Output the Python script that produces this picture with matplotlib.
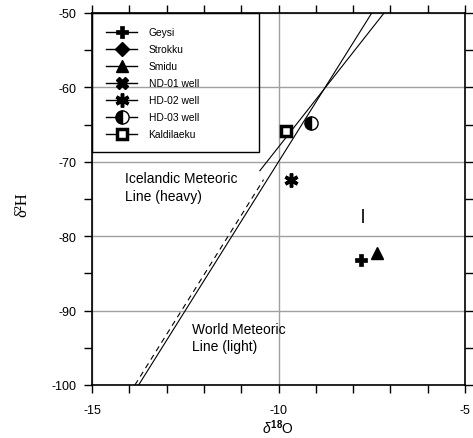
import matplotlib
matplotlib.use("Agg")
import matplotlib.pyplot as plt
from matplotlib.patches import Rectangle
from matplotlib.ticker import MultipleLocator

plt.rcParams['font.family'] = ['Liberation Sans', 'DejaVu Sans']
plt.rcParams['mathtext.fontset'] = 'custom'
plt.rcParams['mathtext.rm'] = 'Liberation Sans'
plt.rcParams['mathtext.bf'] = 'Liberation Sans:bold'
plt.rcParams['mathtext.it'] = 'Liberation Sans:italic'
plt.rcParams['axes.unicode_minus'] = False

# ---- data ----
geysi_x = [-7.80]
geysi_y = [-83.2]
strokku_x = []
strokku_y = []
smidu_x = [-7.37]
smidu_y = [-82.3]
nd01_x = []
nd01_y = []
hd02_x = [-9.67]
hd02_y = [-72.5]
hd03_x = [-9.14]
hd03_y = [-64.8]
kald_x = [-9.79]
kald_y = [-65.9]
bar_x = [-7.74]
bar_y = [-77.3]

gmwl_x = [-13.75, -7.50]
gmwl_y = [-100, -50]
imwl_x = [-10.50, -7.17]
imwl_y = [-71.2, -50]
dash_x = [-13.85, -10.40]
dash_y = [-100, -72.4]

fig = plt.figure(figsize=(4.73, 4.39), dpi=100)
ax = fig.add_axes([92/473, 1-386/439, (465-92)/473, (386-14)/439])

ax.set_xlim(-15, -5)
ax.set_ylim(-100, -50)

ax.grid(True, which='major', color='#a0a0a0', lw=1.0, zorder=0)
ax.set_axisbelow(True)

ax.plot(gmwl_x, gmwl_y, color='black', lw=0.8, zorder=2)
ax.plot(imwl_x, imwl_y, color='black', lw=0.8, zorder=2)
ax.plot(dash_x, dash_y, color='black', lw=0.8, ls=(0, (5, 4)), zorder=2)

lk = dict(color='black', lw=1.0, ls='none')
ax.plot(geysi_x, geysi_y, marker='P', ms=9, mfc='black', mec='black', mew=0.5, label='Geysi', **lk)
ax.plot(strokku_x, strokku_y, marker='D', ms=7, mfc='black', mec='black', label='Strokku', **lk)
ax.plot(smidu_x, smidu_y, marker='^', ms=8.5, mfc='black', mec='black', label='Smidu', **lk)
ax.plot(nd01_x, nd01_y, marker='X', ms=9, mfc='black', mec='black', label='ND-01 well', **lk)
ax.plot(hd02_x, hd02_y, marker=(6, 2, 0), ms=10, mec='black', mew=2.5, label='HD-02 well', **lk)
ax.plot(hd03_x, hd03_y, marker='o', ms=9.5, fillstyle='left', mfc='black',
        markerfacecoloralt='white', mec='black', mew=1.0, label='HD-03 well', **lk)
ax.plot(kald_x, kald_y, marker='s', ms=7.5, mfc='white', mec='black', mew=2.5, label='Kaldilaeku', **lk)
ax.plot(bar_x, bar_y, marker='|', ms=10, mec='black', mew=1.2, ls='none')

handles, labels = ax.get_legend_handles_labels()
for h in handles:
    h.set_linestyle('-')
leg = ax.legend(handles, labels, loc='upper left', bbox_to_anchor=(0.0, 1.0),
                frameon=False, fontsize=7.4, handlelength=3.0, handletextpad=1.1,
                borderpad=1.4, labelspacing=0.68, borderaxespad=0.0)
ax.add_patch(Rectangle((0, (386-153)/372), (259-92)/373, 1-(386-153)/372,
                       transform=ax.transAxes, fill=False, ec='black', lw=1.0,
                       clip_on=False, zorder=5))

ax.text(-14.12, -72.2, 'Icelandic Meteoric', fontsize=10, va='center', ha='left')
ax.text(-14.12, -74.6, 'Line (heavy)', fontsize=10, va='center', ha='left')
ax.text(-12.33, -92.5, 'World Meteoric', fontsize=10, va='center', ha='left')
ax.text(-12.33, -94.7, 'Line (light)', fontsize=10, va='center', ha='left')

ax.xaxis.set_major_locator(MultipleLocator(5))
ax.xaxis.set_minor_locator(MultipleLocator(1))
ax.yaxis.set_major_locator(MultipleLocator(10))
ax.yaxis.set_minor_locator(MultipleLocator(5))
ax.tick_params(which='both', direction='out', length=6, width=1.0,
               top=True, right=True, labelsize=9, color='black')
ax.tick_params(axis='x', which='major', pad=8)
ax.tick_params(axis='y', which='major', pad=5)
for s in ax.spines.values():
    s.set_linewidth(1.2)

fig.text(278/473, 1-428/439, r'$\delta^{\mathbf{18}}$O', fontsize=10, ha='center', va='center')
fig.text(22/473, 1-205/439, 'δ²H', fontsize=12, ha='center', va='center', rotation=90,
         family=['Liberation Serif', 'DejaVu Serif'])

fig.savefig('out.png', dpi=100)
